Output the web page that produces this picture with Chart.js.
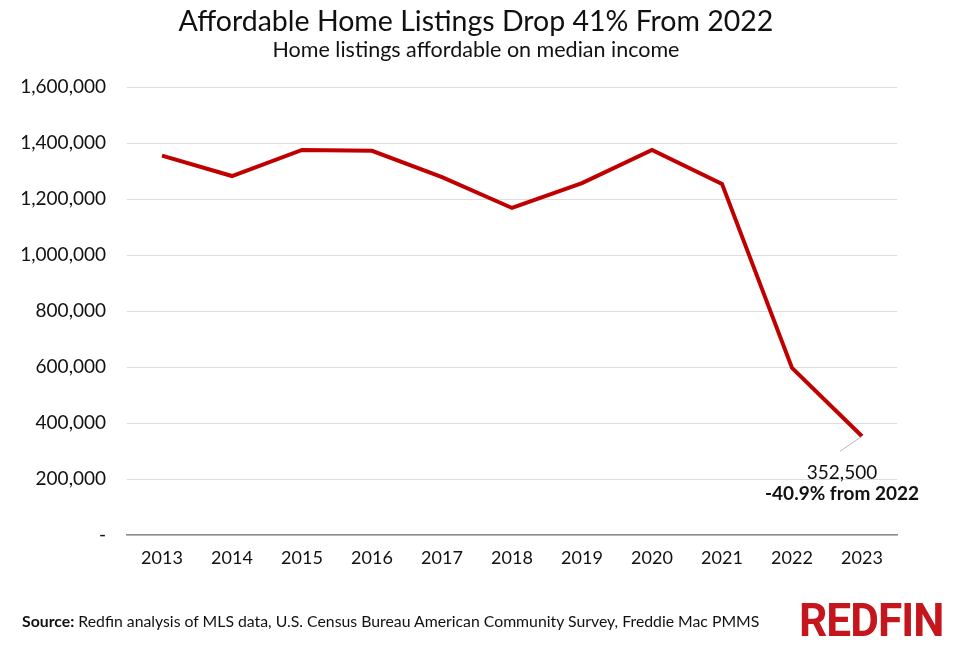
<!DOCTYPE html>
<html>
<head>
<meta charset="utf-8">
<script src="https://cdn.jsdelivr.net/npm/chart.js@4"></script>
<style>
  html, body { margin: 0; padding: 0; background: #fff; }
  #wrap { position: relative; width: 960px; height: 656px; overflow: hidden; font-family: Lato, sans-serif; color: #111; }
  #chart { position: absolute; left: 0; top: 0; }
  .title { position: absolute; left: 0; width: 952px; text-align: center; white-space: nowrap; }
  #t1 { top: 3px; font-size: 28.5px; }
  #t2 { top: 36px; font-size: 21.5px; }
  #source { position: absolute; left: 22px; top: 611px; font-size: 15.8px; white-space: nowrap; }
  #logo { position: absolute; left: 799px; top: 593px; font-family: Roboto, sans-serif; font-weight: 700; font-size: 46px;
          color: #c4161c; transform: scaleX(0.96); transform-origin: left top; letter-spacing: -1px; }
</style>
</head>
<body>
<div id="wrap">
  <canvas id="chart" width="960" height="656"></canvas>
  <div class="title" id="t1">Affordable Home Listings Drop 41% From 2022</div>
  <div class="title" id="t2">Home listings affordable on median income</div>
  <div id="source"><b>Source:</b> Redfin analysis of MLS data, U.S. Census Bureau American Community Survey, Freddie Mac PMMS</div>
  <div id="logo">REDFIN</div>
</div>
<script>
// chart data
const years = ['2013', '2014', '2015', '2016', '2017', '2018', '2019', '2020', '2021', '2022', '2023'];
const listings = [1355000, 1282000, 1375000, 1372000, 1278000, 1168000, 1257000, 1375000, 1254000, 597000, 352500];
const yTicks = [0, 200000, 400000, 600000, 800000, 1000000, 1200000, 1400000, 1600000];
const noteLines = ['352,500', '-40.9% from 2022'];

const fmt = v => v === 0 ? '-' : v.toLocaleString('en-US');

// draws the leader line and the label for the last point
const lastPointNote = {
    id: 'lastPointNote',
    afterDatasetsDraw(chart) {
        const { ctx, scales } = chart;
        const i = listings.length - 1;
        const px = scales.x.getPixelForValue(i);
        const py = scales.y.getPixelForValue(listings[i]);
        ctx.save();
        ctx.strokeStyle = '#b8b8b8';
        ctx.lineWidth = 1;
        ctx.beginPath();
        ctx.moveTo(px, py);
        ctx.lineTo(px - 22, py + 15);
        ctx.stroke();
        ctx.textAlign = 'center';
        ctx.textBaseline = 'alphabetic';
        ctx.fillStyle = '#111';
        ctx.font = '19px Lato, sans-serif';
        ctx.fillText(noteLines[0], px - 20, py + 43);
        ctx.font = 'bold 19px Lato, sans-serif';
        ctx.fillText(noteLines[1], px - 20, py + 64);
        ctx.restore();
    }
};

new Chart(document.getElementById('chart'), {
    type: 'line',
    data: {
        labels: years,
        datasets: [{
            data: listings,
            borderColor: '#c00000',
            borderWidth: 4,
            pointRadius: 0,
            tension: 0
        }]
    },
    options: {
        responsive: false,
        animation: false,
        layout: { padding: { top: 87, right: 63, bottom: 81, left: 0 } },
        plugins: {
            legend: { display: false },
            tooltip: { enabled: false }
        },
        scales: {
            x: {
                offset: true,
                grid: { display: false, drawTicks: false },
                border: { display: true, color: '#8c8c8c', width: 1.5 },
                ticks: { color: '#111', padding: 12, font: { family: 'Lato', size: 18 } },
                afterFit(scale) { scale.height = 40; }
            },
            y: {
                min: 0,
                max: 1600000,
                afterBuildTicks(scale) { scale.ticks = yTicks.map(v => ({ value: v })); },
                grid: { color: '#dedede', lineWidth: 1, drawTicks: false },
                border: { display: false },
                ticks: {
                    color: '#111',
                    padding: 21,
                    font: { family: 'Lato', size: 19 },
                    callback: v => fmt(v)
                },
                afterFit(scale) { scale.width = 127; }
            }
        }
    },
    plugins: [lastPointNote]
});
</script>
</body>
</html>
